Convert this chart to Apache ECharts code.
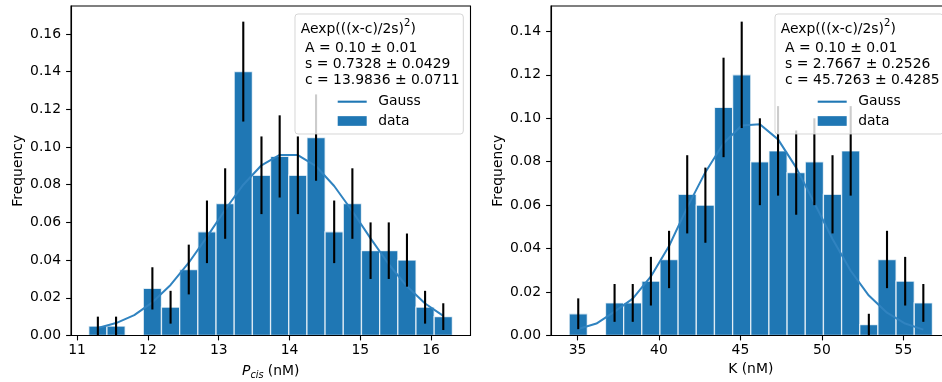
<!DOCTYPE html>
<html>
<head>
<meta charset="utf-8">
<script src="https://cdn.jsdelivr.net/npm/echarts@6/dist/echarts.min.js"></script>
<style>
html,body{margin:0;padding:0;background:#fff;}
#chart{width:942px;height:382px;}
</style>
</head>
<body>
<div id="chart"></div>
<script>
// ---------- data ----------
const leftBinCenters = [11.293, 11.550, 11.807, 12.063, 12.320, 12.577, 12.834, 13.091, 13.347, 13.604,
                        13.861, 14.118, 14.375, 14.631, 14.888, 15.145, 15.402, 15.659, 15.915, 16.172];
const leftFreq  = [0.005, 0.005, 0, 0.025, 0.015, 0.035, 0.055, 0.07, 0.14, 0.085,
                   0.095, 0.085, 0.105, 0.055, 0.07, 0.045, 0.045, 0.04, 0.015, 0.01];
const leftErr   = [0.005, 0.005, 0, 0.0112, 0.0087, 0.0132, 0.0166, 0.0187, 0.0265, 0.0206,
                   0.0218, 0.0206, 0.0229, 0.0166, 0.0187, 0.015, 0.015, 0.0141, 0.0087, 0.0071];
const leftGauss = [0.0040, 0.0066, 0.0108, 0.0176, 0.0268, 0.0386, 0.0523, 0.0667, 0.0800, 0.0903,
                   0.0958, 0.0957, 0.0898, 0.0793, 0.0659, 0.0515, 0.0378, 0.0261, 0.0170, 0.0104];

const rightBinCenters = [35.047, 36.162, 37.276, 38.391, 39.505, 40.620, 41.734, 42.849, 43.963, 45.078,
                         46.192, 47.307, 48.421, 49.536, 50.650, 51.765, 52.879, 53.994, 55.108, 56.223];
const rightFreq  = [0.01, 0, 0.015, 0.015, 0.025, 0.035, 0.065, 0.06, 0.105, 0.12,
                    0.08, 0.085, 0.075, 0.08, 0.065, 0.085, 0.005, 0.035, 0.025, 0.015];
const rightErr   = [0.0071, 0, 0.0087, 0.0087, 0.0112, 0.0132, 0.018, 0.0173, 0.0229, 0.0245,
                    0.02, 0.0206, 0.0194, 0.02, 0.018, 0.0206, 0.005, 0.0132, 0.0112, 0.0087];
const rightGauss = [0.0030, 0.0055, 0.0110, 0.0170, 0.0272, 0.0412, 0.0590, 0.0752, 0.0885, 0.0967,
                    0.0973, 0.0903, 0.0773, 0.0610, 0.0444, 0.0298, 0.0184, 0.0105, 0.0055, 0.0027];

const leftXTicks  = [11, 12, 13, 14, 15, 16];
const rightXTicks = [35, 40, 45, 50, 55];
const leftYTicks  = [0, 0.02, 0.04, 0.06, 0.08, 0.10, 0.12, 0.14, 0.16];
const rightYTicks = [0, 0.02, 0.04, 0.06, 0.08, 0.10, 0.12, 0.14];

const fitTitle = 'Aexp(((x-c)/2s)';
const leftFitLines  = ['A = 0.10 ± 0.01', 's = 0.7328 ± 0.0429', 'c = 13.9836 ± 0.0711'];
const rightFitLines = ['A = 0.10 ± 0.01', 's = 2.7667 ± 0.2526', 'c = 45.7263 ± 0.4285'];
const legendNames = ['Gauss', 'data'];

// ---------- styling ----------
const FONT = 'DejaVu Sans';
const FS = 13.9;
const BLUE = '#1f77b4';

function barRender(centers) {
  const w = centers[1] - centers[0];
  return function (params, api) {
    const c = api.value(0), h = api.value(1);
    if (!h) return null;
    const p0 = api.coord([c - w / 2, h]);
    const p1 = api.coord([c + w / 2, 0]);
    return {
      type: 'rect',
      shape: { x: p0[0], y: p0[1], width: p1[0] - p0[0], height: p1[1] - p0[1] },
      style: { fill: BLUE, stroke: 'rgba(255,255,255,0.75)', lineWidth: 1.3 }
    };
  };
}
function errRender(params, api) {
  const c = api.value(0), h = api.value(1), e = api.value(2);
  if (!e) return null;
  const a = api.coord([c, h - e]);
  const b = api.coord([c, h + e]);
  return {
    type: 'line',
    shape: { x1: a[0], y1: a[1], x2: b[0], y2: b[1] },
    style: { stroke: '#000', lineWidth: 2.1 }
  };
}
const zip2 = (xs, ys) => xs.map((x, i) => [x, ys[i]]);
const zip3 = (xs, ys, es) => xs.map((x, i) => [x, ys[i], es[i]]);

function xAxisDef(gi, min, max, ticks, name) {
  return {
    gridIndex: gi, type: 'value', min: min, max: max, z: 5,
    axisLine: { show: true, onZero: false, lineStyle: { color: '#000', width: 1.1 } },
    axisTick: { show: true, length: 4.9, lineStyle: { color: '#000', width: 1.1 }, customValues: ticks },
    axisLabel: { customValues: ticks, color: '#000', fontSize: FS, fontFamily: FONT, margin: 8 },
    splitLine: { show: false },
    name: name, nameLocation: 'middle', nameGap: 27,
    nameTextStyle: {
      color: '#000', fontSize: FS, fontFamily: FONT,
      rich: {
        p: { fontStyle: 'italic', fontSize: FS, fontFamily: FONT, color: '#000' },
        s: { fontStyle: 'italic', fontSize: 9.7, fontFamily: FONT, color: '#000', padding: [8, 0, 0, 0] },
        n: { fontSize: FS, fontFamily: FONT, color: '#000' }
      }
    }
  };
}
function yAxisDef(gi, max, ticks) {
  return {
    gridIndex: gi, type: 'value', min: 0, max: max, z: 5,
    axisLine: { show: true, onZero: false, lineStyle: { color: '#000', width: 1.1 } },
    axisTick: { show: true, length: 4.9, lineStyle: { color: '#000', width: 1.1 }, customValues: ticks },
    axisLabel: { customValues: ticks, color: '#000', fontSize: FS, fontFamily: FONT, margin: 10,
                 formatter: v => v.toFixed(2) },
    splitLine: { show: false },
    name: 'Frequency', nameLocation: 'middle', nameGap: 46,
    nameTextStyle: { color: '#000', fontSize: FS, fontFamily: FONT }
  };
}

function legendBoxGraphics(x0, fitLines) {
  const els = [];
  els.push({
    type: 'rect', z: 10,
    shape: { x: x0, y: 14, width: 168.3, height: 120, r: 3 },
    style: { fill: 'rgba(255,255,255,0.8)', stroke: 'rgba(204,204,204,0.8)', lineWidth: 1 }
  });
  els.push({
    type: 'text', z: 11, x: x0 + 5.7, y: 29,
    style: {
      text: '{t|' + fitTitle + '}{u|2}{t|)}',
      textVerticalAlign: 'middle', textAlign: 'left',
      rich: {
        t: { fontSize: FS, fontFamily: FONT, fill: '#000', color: '#000' },
        u: { fontSize: 10, fontFamily: FONT, fill: '#000', color: '#000', padding: [0, 0, 11, 0] }
      }
    }
  });
  fitLines.forEach((s, i) => {
    els.push({
      type: 'text', z: 11, x: x0 + 10, y: 48.4 + i * 16,
      style: { text: s, fontSize: FS, fontFamily: FONT, fill: '#000', textVerticalAlign: 'middle', textAlign: 'left' }
    });
  });
  return els;
}

function legendDef(left) {
  return {
    orient: 'vertical', left: left, top: 93.7, padding: 0, z: 12,
    itemWidth: 29, itemHeight: 9.7, itemGap: 3.3, selectedMode: false,
    data: [
      { name: legendNames[0], icon: 'path://M0,0H290V21H0Z' },
      { name: legendNames[1], icon: 'rect' }
    ],
    textStyle: { color: '#000', fontSize: FS, fontFamily: FONT, lineHeight: 16, padding: [0, 0, 0, 6.5] }
  };
}

const gridBase = { top: 6, width: 399.5, height: 329.5, show: true, borderColor: '#000', borderWidth: 1.1,
                   backgroundColor: 'transparent', containLabel: false, outerBoundsMode: 'none' };

const chart = echarts.init(document.getElementById('chart'), null, { renderer: 'canvas' });
chart.setOption({
  animation: false,
  backgroundColor: '#fff',
  grid: [
    Object.assign({ left: 71 }, gridBase),
    Object.assign({ left: 551 }, gridBase)
  ],
  xAxis: [
    xAxisDef(0, 10.9135, 16.5565, leftXTicks, '{p|P}{s|cis}{n| (nM)}'),
    xAxisDef(1, 33.375, 57.89, rightXTicks, 'K (nM)')
  ],
  yAxis: [
    yAxisDef(0, 0.1748, leftYTicks),
    yAxisDef(1, 0.1517, rightYTicks)
  ],
  legend: [legendDef(337.7), legendDef(817.7)],
  graphic: { elements: legendBoxGraphics(295, leftFitLines).concat(legendBoxGraphics(775, rightFitLines)) },
  series: [
    { type: 'custom', name: 'data', xAxisIndex: 0, yAxisIndex: 0, z: 2, itemStyle: { color: BLUE },
      renderItem: barRender(leftBinCenters), encode: { x: 0, y: 1 }, data: zip2(leftBinCenters, leftFreq) },
    { type: 'line', name: 'Gauss', xAxisIndex: 0, yAxisIndex: 0, z: 3, symbol: 'none', showSymbol: false,
      lineStyle: { color: '#3083c0', width: 2 }, itemStyle: { color: BLUE }, data: zip2(leftBinCenters, leftGauss) },
    { type: 'custom', name: 'errL', xAxisIndex: 0, yAxisIndex: 0, z: 4,
      renderItem: errRender, encode: { x: 0, y: 1 }, data: zip3(leftBinCenters, leftFreq, leftErr) },

    { type: 'custom', name: 'data', xAxisIndex: 1, yAxisIndex: 1, z: 2, itemStyle: { color: BLUE },
      renderItem: barRender(rightBinCenters), encode: { x: 0, y: 1 }, data: zip2(rightBinCenters, rightFreq) },
    { type: 'line', name: 'Gauss', xAxisIndex: 1, yAxisIndex: 1, z: 3, symbol: 'none', showSymbol: false,
      lineStyle: { color: '#3083c0', width: 2 }, itemStyle: { color: BLUE }, data: zip2(rightBinCenters, rightGauss) },
    { type: 'custom', name: 'errR', xAxisIndex: 1, yAxisIndex: 1, z: 4,
      renderItem: errRender, encode: { x: 0, y: 1 }, data: zip3(rightBinCenters, rightFreq, rightErr) }
  ]
});
</script>
</body>
</html>
